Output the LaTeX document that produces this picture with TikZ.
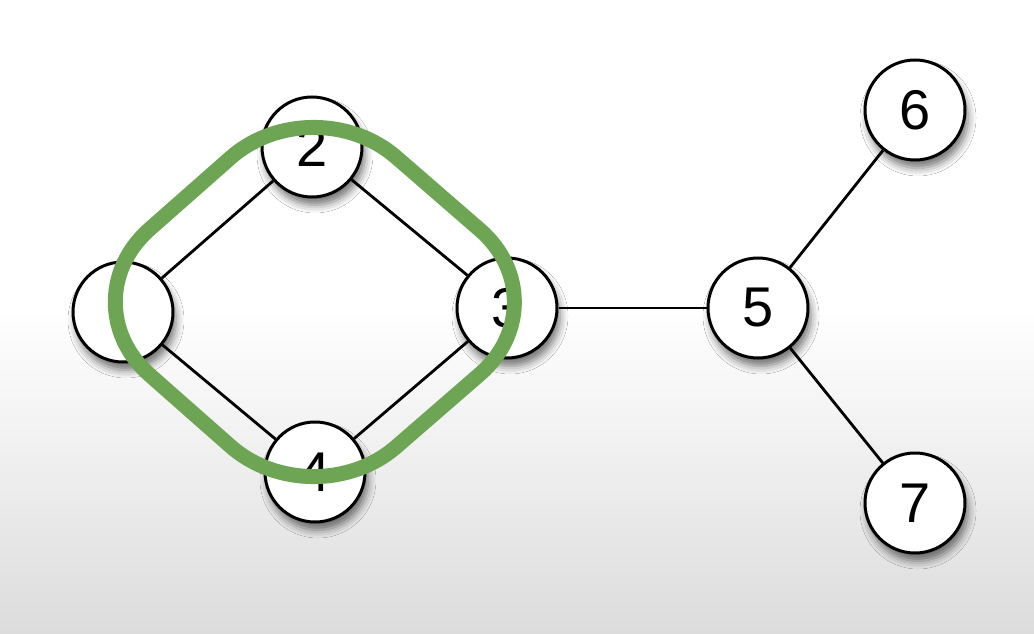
\documentclass[tikz,border=0pt]{standalone}
\usepackage{fontspec}
\setmainfont{Liberation Sans}
\usetikzlibrary{shadows.blur}
\definecolor{loopgreen}{RGB}{110,165,85}
\definecolor{bggray}{RGB}{220,220,220}
\tikzset{
  vertex/.style={circle, draw=black, line width=3pt, fill=white, minimum size=100pt, inner sep=0pt,
    font=\fontsize{56}{58}\selectfont,
    blur shadow={shadow xshift=3pt, shadow yshift=-8pt, shadow blur radius=8pt, shadow opacity=55}},
  edge/.style={line width=2.8pt, black},
  ring/.style={draw=loopgreen, line width=15pt, rounded corners=110pt}
}
\begin{document}
\begin{tikzpicture}[x=1pt,y=-1pt]
  \useasboundingbox (0,0) rectangle (1034,634);
  \fill[white] (0,0) rectangle (1034,310);
  \shade[top color=white, bottom color=bggray] (0,309) rectangle (1034,634);
  \node[vertex] (n1) at (123,312) {};
  \node[vertex] (n2) at (312,147) {2};
  \node[vertex] (n3) at (507,308) {3};
  \node[vertex] (n4) at (315,472) {4};
  \node[vertex] (n5) at (758,308) {5};
  \node[vertex] (n6) at (915,110) {6};
  \node[vertex] (n7) at (915,503) {7};
  \draw[edge] (n1) -- (n2);
  \draw[edge] (n1) -- (n4);
  \draw[edge] (n2) -- (n3);
  \draw[edge] (n4) -- (n3);
  \draw[edge] (n3) -- (n5);
  \draw[edge] (n5) -- (n6);
  \draw[edge] (n5) -- (n7);
  \coordinate (gl) at (67,302);
  \coordinate (gt) at (313,85);
  \coordinate (gr) at (563,302);
  \coordinate (gb) at (313,519);
  \draw[ring] (gl) -- (gt) -- (gr) -- (gb) -- cycle;
\end{tikzpicture}
\end{document}
